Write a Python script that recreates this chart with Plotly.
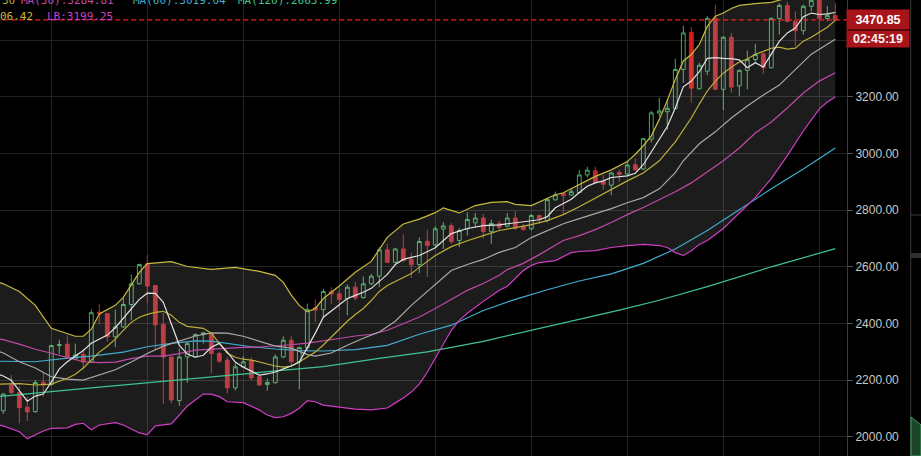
import plotly.graph_objects as go

# ---------------- data ----------------
candle_idx = list(range(105))
opens = [2092,2183,2156,2105,2089,2193,2185,2322,2327,2274,2291,2264,2440,2435,2353,2388,2467,2540,2611,2534,
         2397,2282,2128,2282,2282,2361,2365,2294,2271,2173,2247,2267,2212,2185,2191,2282,2341,2265,2315,2456,
         2449,2513,2505,2488,2528,2491,2540,2567,2660,2616,2663,2626,2608,2690,2677,2733,2745,2693,2734,2755,
         2772,2724,2753,2743,2772,2742,2734,2781,2763,2836,2859,2853,2862,2924,2939,2900,2888,2933,2927,2960,
         2945,3050,3142,3147,3158,3296,3427,3228,3290,3477,3226,3410,3238,3293,3331,3351,3302,3476,3522,3466,
         3433,3519,3545,3476,3487]
highs = [2155,2218,2177,2142,2200,2229,2325,2343,2358,2329,2309,2449,2470,2437,2449,2490,2573,2611,2641,2535,
         2437,2283,2312,2335,2365,2370,2370,2300,2282,2259,2285,2280,2221,2206,2291,2355,2355,2318,2470,2485,
         2523,2528,2520,2538,2546,2566,2575,2669,2681,2665,2714,2649,2704,2731,2743,2757,2755,2736,2792,2790,
         2786,2766,2763,2790,2796,2751,2786,2783,2843,2865,2861,2877,2941,2953,2953,2925,2935,2941,2974,2982,
         3054,3150,3196,3191,3334,3451,3446,3320,3484,3525,3412,3425,3296,3363,3386,3355,3480,3530,3535,3501,
         3525,3560,3570,3520,3530]
lows = [2081,2151,2048,2056,2085,2142,2180,2293,2278,2271,2238,2261,2397,2335,2317,2385,2411,2538,2470,2306,
        2115,2118,2109,2191,2280,2329,2224,2261,2154,2163,2245,2200,2180,2163,2188,2278,2253,2168,2306,2405,
        2419,2470,2450,2429,2482,2488,2535,2528,2614,2612,2616,2560,2578,2564,2669,2663,2681,2669,2710,2739,
        2699,2681,2728,2739,2730,2728,2728,2751,2757,2834,2786,2852,2860,2915,2895,2872,2853,2900,2925,2940,
        2941,3038,3129,3083,3156,3249,3179,3226,3276,3224,3153,3214,3202,3226,3320,3281,3300,3419,3463,3378,
        3419,3501,3398,3466,3466]
closes = [2151,2156,2103,2088,2192,2183,2322,2326,2280,2289,2264,2438,2434,2353,2388,2467,2540,2608,2532,2395,
          2282,2130,2282,2329,2361,2367,2294,2267,2173,2247,2265,2208,2183,2192,2282,2341,2265,2315,2450,2447,
          2513,2504,2485,2528,2490,2540,2567,2660,2616,2663,2622,2607,2689,2675,2734,2744,2689,2728,2767,2772,
          2724,2753,2739,2772,2736,2731,2781,2769,2837,2854,2851,2865,2924,2941,2898,2891,2931,2926,2959,2942,
          3052,3143,3150,3159,3296,3425,3230,3311,3476,3226,3410,3234,3293,3331,3349,3302,3476,3522,3466,3433,
          3519,3540,3476,3487,3470.85]
bright_red = [12, 86]

# Bollinger upper band
ub_x = [-1,0,2,4,6,8,9,10,11,12,13,14,15,16,17,18,20,21,23,26,29,32,34,35,36,37,38,39,40,42,44,46,48,50,52,
        54,55,56,57,59,61,63,64,66,68,69,70,72,74,76,78,79,80,81,82,83,84,85,86,87,88,89,90,91,92,94,96,98,100,102,104]
ub_y = [2550,2540,2513,2464,2383,2366,2355,2355,2380,2434,2450,2464,2492,2534,2580,2611,2615,2618,2601,2591,2598,
        2584,2570,2545,2500,2464,2441,2453,2488,2532,2581,2619,2704,2751,2768,2791,2808,2800,2790,2816,2827,2830,
        2820,2816,2840,2854,2861,2891,2919,2942,2971,2997,3027,3062,3120,3187,3261,3326,3349,3384,3448,3484,3495,
        3511,3522,3528,3533,3548,3567,3585,3606.42]
# Bollinger lower band
lb_x = [-1,0,2,3,5,6,8,9,10,11,12,14,15,17,18,19,21,22,23,24,25,26,27,28,30,32,33,34,35,36,37,38,39,40,42,44,46,
        48,49,50,51,52,53,54,55,56,57,58,60,62,63,64,65,66,67,69,70,71,72,74,76,78,80,82,83,84,85,86,87,88,90,92,
        94,96,98,100,102,103,104]
lb_y = [2045,2039,2018,1993,2021,2030,2032,2044,2048,2025,2042,2050,2042,2014,2007,2039,2046,2077,2109,2130,2151,
        2151,2142,2124,2121,2095,2077,2068,2071,2083,2101,2128,2124,2112,2105,2098,2095,2102,2120,2137,2158,2186,
        2228,2278,2330,2376,2411,2436,2478,2517,2531,2559,2587,2605,2615,2622,2636,2650,2654,2657,2668,2675,2679,
        2675,2668,2650,2640,2657,2679,2693,2735,2791,2844,2911,2992,3079,3157,3181,3199.25]
# MA(20) = Bollinger middle
ma20_x = [-1,0,2,4,6,8,10,12,14,16,18,20,22,24,26,28,30,32,34,36,38,39,41,43,45,47,49,51,52,54,56,58,60,62,64,66,
          68,70,72,74,76,78,80,82,84,85,87,89,91,93,95,97,99,101,103,104]
ma20_y = [2305,2296,2265,2243,2212,2204,2200,2218,2237,2264,2294,2320,2338,2356,2367,2366,2355,2338,2320,2313,2290,
          2285,2296,2323,2348,2370,2408,2464,2489,2538,2587,2608,2626,2651,2668,2703,2728,2752,2770,2787,2805,2826,
          2844,2875,2932,2974,3034,3076,3125,3167,3206,3241,3297,3350,3385,3402.84]
# MA(5)
ma5_x = list(range(-1, 53)) + [54,56,58,60,62,64,66,67,68,69] + list(range(70, 105))
ma5_y = [2225,2215,2200,2165,2126,2144,2151,2193,2240,2265,2285,2305,2330,2345,2359,2385,2418,2450,2485,2507,2506,
         2475,2400,2323,2292,2281,2288,2316,2330,2299,2264,2246,2232,2218,2222,2229,2240,2250,2264,2313,2366,2422,
         2443,2464,2488,2499,2510,2524,2549,2573,2608,2626,2633,2640,
         2667,2717,2735,2745,2748,2755,2763,2766,2777,2808,
         2823,2838,2862,2884,2896,2903,2915,2918,2921,2930,2960,3005,3050,3095,3160,3235,3255,3288,3335,3338,3335,
         3334,3330,3302,3320,3305,3350,3395,3425,3442,3482,3495,3490,3492,3497]
# MA(10)
ma10_x = [-1,0,2,4,6,8,9,10,11,12,13,14,15,16,17,18,19,20,21,22,23,24,25,26,27,28,29,30,31,32,33,34,35,36,37,38,39,
          40,41,42,43,44,45,46,47,48,49,50,51,52,54,56,58,60,62,64,66,68,70,72,74,76,78,80,82,84,86,87,88,89,90,91,
          92,93,94,95,96,97,98,99,100,101,102,103,104]
ma10_y = [2186,2186,2188,2183,2186,2207,2221,2243,2271,2299,2320,2345,2376,2404,2422,2432,2439,2443,2429,2404,2390,
          2387,2383,2366,2330,2295,2281,2274,2271,2264,2257,2250,2246,2250,2264,2281,2299,2324,2352,2379,2408,2432,
          2453,2481,2513,2534,2548,2562,2576,2598,2640,2671,2692,2710,2728,2738,2749,2763,2784,2812,2843,2875,2903,
          2931,2974,3041,3125,3174,3220,3255,3283,3304,3322,3333,3350,3360,3371,3375,3368,3371,3396,3410,3428,3445,
          3469.30]
# MA(30)
ma30_x = [-1,0,2,4,6,8,10,12,14,16,18,20,22,24,26,28,30,32,34,36,38,40,42,44,46,48,50,52,54,56,58,60,62,63,65,67,
          69,70,72,74,76,78,80,82,84,86,88,90,92,94,96,98,100,102,104]
ma30_y = [2347,2343,2327,2309,2295,2280,2265,2262,2264,2276,2285,2285,2294,2306,2309,2314,2316,2317,2320,2325,2331,
          2338,2347,2356,2362,2376,2400,2423,2453,2485,2517,2541,2570,2590,2612,2643,2678,2693,2710,2731,2756,2784,
          2809,2836,2865,2896,2935,2974,3019,3072,3111,3160,3213,3255,3284.81]
# MA(60)
ma60_x = [-1,0,4,8,11,15,18,21,24,26,28,31,34,37,40,44,48,52,56,60,64,68,72,76,80,84,88,92,96,100,104]
ma60_y = [2267,2267,2265,2278,2285,2299,2318,2330,2339,2338,2330,2318,2310,2304,2303,2308,2323,2362,2394,2446,
          2485,2519,2550,2575,2612,2663,2728,2802,2875,2945,3019.04]
# MA(120)
ma120_x = [-1,0,10,20,30,40,47,53,60,66,72,77,82,88,96,104]
ma120_y = [2141,2144,2170,2196,2222,2248,2277,2300,2337,2376,2413,2447,2482,2530,2600,2663.99]

last_price = 3470.85
countdown = "02:45:19"
y_ticks = [2000, 2200, 2400, 2600, 2800, 3000, 3200, 3400]
y_tick_text = ["2000.00", "2200.00", "2400.00", "2600.00", "2800.00", "3000.00", "3200.00", ""]
x_grid = [6, 18, 30, 42, 54, 66, 78, 90, 102]

# ---------------- styling ----------------
W, H = 921, 456
R_MARGIN = 74
PW = W - R_MARGIN  # plot width in px

C_UB = "#c9ba3c"
C_MA10 = "#bcae3a"
C_LB = "#d23ec8"
C_MA30 = "#c24aa8"
C_MA5 = "#e2e2e2"
C_MA20 = "#a9a9a9"
C_MA60 = "#42acd0"
C_MA120 = "#3ec48e"
C_UP = "#46a861"
C_DN = "#b3282d"
C_DN2 = "#d41c1c"

fig = go.Figure()

# band fill (lines hidden, redrawn later on top)
fig.add_trace(go.Scatter(x=lb_x, y=lb_y, mode="lines", line=dict(width=0, color=C_LB),
                         hoverinfo="skip", showlegend=False))
fig.add_trace(go.Scatter(x=ub_x, y=ub_y, mode="lines", line=dict(width=0, color=C_UB),
                         fill="tonexty", fillcolor="rgba(255,255,255,0.11)",
                         hoverinfo="skip", showlegend=False))

# candles
norm = [i for i in candle_idx if i not in bright_red]
fig.add_trace(go.Candlestick(
    x=norm, open=[opens[i] for i in norm], high=[highs[i] for i in norm],
    low=[lows[i] for i in norm], close=[closes[i] for i in norm],
    increasing=dict(line=dict(color=C_UP, width=1), fillcolor="rgba(0,0,0,0)"),
    decreasing=dict(line=dict(color=C_DN, width=1), fillcolor=C_DN),
    whiskerwidth=0, showlegend=False, hoverinfo="skip"))
fig.add_trace(go.Candlestick(
    x=bright_red, open=[opens[i] for i in bright_red], high=[highs[i] for i in bright_red],
    low=[lows[i] for i in bright_red], close=[closes[i] for i in bright_red],
    increasing=dict(line=dict(color=C_UP, width=1), fillcolor="rgba(0,0,0,0)"),
    decreasing=dict(line=dict(color=C_DN2, width=1), fillcolor=C_DN2),
    whiskerwidth=0, showlegend=False, hoverinfo="skip"))

# indicator lines
for xs, ys, col in [(ma120_x, ma120_y, C_MA120), (ma60_x, ma60_y, C_MA60), (ma30_x, ma30_y, C_MA30),
                    (lb_x, lb_y, C_LB), (ub_x, ub_y, C_UB), (ma20_x, ma20_y, C_MA20),
                    (ma10_x, ma10_y, C_MA10), (ma5_x, ma5_y, C_MA5)]:
    fig.add_trace(go.Scatter(x=xs, y=ys, mode="lines", line=dict(color=col, width=1.2),
                             hoverinfo="skip", showlegend=False))

# last price dashed line drawn as a trace across the full x range
fig.add_trace(go.Scatter(x=[-1, 106], y=[last_price, last_price], mode="lines",
                         line=dict(color="#f0201c", width=1.3, dash="5px,3px"),
                         hoverinfo="skip", showlegend=False))

x0_idx = -3.3 / 8
x1_idx = (PW - 3.3) / 8

def px_x(p):
    return p / PW

def px_y(p):
    return 1 - p / H

shapes = [
    # separator of the neighbouring panel
    dict(type="line", xref="paper", yref="paper", x0=px_x(910.7), x1=px_x(910.7), y0=0, y1=1,
         line=dict(color="#3a3a3a", width=1)),
    dict(type="line", xref="paper", yref="paper", x0=px_x(911), x1=px_x(921), y0=px_y(215), y1=px_y(215),
         line=dict(color="#3c3c3c", width=1)),
    dict(type="rect", xref="paper", yref="paper", x0=px_x(911), x1=px_x(921), y0=px_y(258), y1=px_y(253),
         line=dict(width=0), fillcolor="#2e2e2e"),
    dict(type="path", xref="paper", yref="paper",
         path=f"M {px_x(911)},{px_y(417)} L {px_x(921)},{px_y(425)} L {px_x(921)},0 L {px_x(911)},0 Z",
         fillcolor="#1c4428", line=dict(color="#3fa060", width=1)),
]

ann = []
mono = "DejaVu Sans Mono"
# header row 1 (cut at top, as in the reference)
for txt, xp, col in [("30", 1, C_MA10), ("MA(30):3284.81", 20, C_MA30),
                     ("MA(60):3019.04", 132, C_MA60), ("MA(120):2663.99", 237, C_MA120)]:
    ann.append(dict(text=txt, xref="paper", yref="paper", x=px_x(xp), y=px_y(0), xanchor="left",
                    yanchor="middle", showarrow=False, font=dict(family=mono, size=11, color=col),
                    borderpad=0))
# header row 2
for txt, xp, col in [("06.42", -1, C_UB), ("LB:3199.25", 46, C_LB)]:
    ann.append(dict(text=txt, xref="paper", yref="paper", x=px_x(xp), y=px_y(16), xanchor="left",
                    yanchor="middle", showarrow=False, font=dict(family=mono, size=11, color=col),
                    borderpad=0))
# price and countdown boxes
ann.append(dict(text=f"<b>{last_price:.2f}</b>", xref="paper", yref="paper", x=px_x(878), y=px_y(19.7),
                xanchor="center", yanchor="middle", showarrow=False, width=62, height=19, borderpad=0,
                bgcolor="#a8141a", font=dict(family="Liberation Sans", size=12.5, color="#ffffff")))
ann.append(dict(text=f"<b>{countdown}</b>", xref="paper", yref="paper", x=px_x(878), y=px_y(38.7),
                xanchor="center", yanchor="middle", showarrow=False, width=62, height=16, borderpad=0,
                bgcolor="#a8141a", font=dict(family="Liberation Sans", size=12.5, color="#f2f2f2")))

fig.update_layout(
    width=W, height=H, margin=dict(l=0, r=R_MARGIN, t=0, b=0, pad=0),
    paper_bgcolor="#000000", plot_bgcolor="#000000",
    boxgap=0.32,
    showlegend=False,
    shapes=shapes, annotations=ann,
    xaxis=dict(range=[x0_idx, x1_idx], tickvals=x_grid, showticklabels=False, ticks="",
               showgrid=True, gridcolor="#222222", gridwidth=1, zeroline=False, showline=False,
               rangeslider=dict(visible=False), fixedrange=True),
    yaxis=dict(side="right", range=[1932.6, 3541.1], tickvals=y_ticks, ticktext=y_tick_text,
               showgrid=True, gridcolor="#222222", gridwidth=1, zeroline=False,
               ticks="outside", ticklen=5, tickcolor="#555555",
               tickfont=dict(family="Liberation Sans", size=12, color="#c8c8c8"),
               showline=True, linecolor="#3a3a3a", linewidth=1, fixedrange=True),
)

fig.write_html("out.html")
